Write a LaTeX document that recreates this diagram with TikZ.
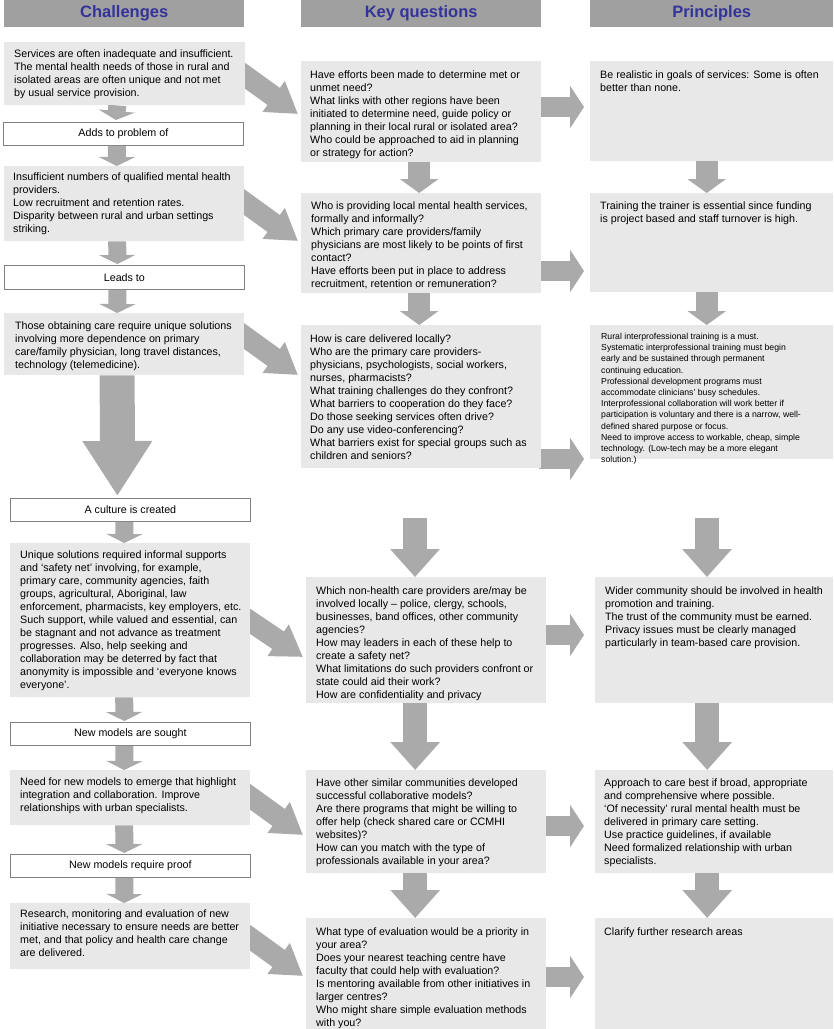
\documentclass[tikz,border=0pt]{standalone}
\usepackage{fontspec}
\setmainfont{Liberation Sans}
\usetikzlibrary{arrows.meta,calc}
\definecolor{hdrgray}{RGB}{160,160,160}
\definecolor{hdrblue}{RGB}{51,51,153}
\definecolor{boxgray}{RGB}{232,232,232}
\definecolor{arrgray}{RGB}{170,170,170}
\definecolor{lblgray}{RGB}{128,128,128}
\newcommand{\gb}[5]{%
  \pgfmathsetmacro{\bw}{#4-#2}\pgfmathsetmacro{\bh}{#5-#3}%
  \node[gbox, minimum width=\bw pt, minimum height=\bh pt] (#1) at (#2,#3) {};}
\newcommand{\lb}[6]{%
  \pgfmathsetmacro{\bw}{#4-#2}\pgfmathsetmacro{\bh}{#5-#3}%
  \node[lbl, minimum width=\bw pt, minimum height=\bh pt] (#1) at (#2,#3) {#6};}
\begin{document}
\begin{tikzpicture}[x=1pt,y=-1pt,
  hdr/.style={fill=hdrgray, text=hdrblue, font=\fontsize{16.5}{18}\selectfont\bfseries, minimum height=27pt, inner sep=0pt, anchor=north west},
  gbox/.style={fill=boxgray, inner sep=0pt, anchor=north west},
  lbl/.style={draw=lblgray, line width=0.8pt, fill=white, inner sep=0pt, anchor=north west, font=\fontsize{10.7}{13}\selectfont},
  txt/.style={inner sep=0pt, anchor=north west, align=left, font=\fontsize{10.7}{13}\selectfont},
  smtxt/.style={inner sep=0pt, anchor=north west, align=left, font=\fontsize{8.7}{11.2}\selectfont},
  varrow/.style={draw=arrgray, line width=18pt, -{Triangle[width=36pt,length=9pt]}},
  karrow/.style={draw=arrgray, line width=22pt, -{Triangle[width=38pt,length=14pt]}},
  garrow/.style={draw=arrgray, line width=24pt, -{Triangle[width=48pt,length=28pt]}},
  bigarrow/.style={draw=arrgray, line width=35pt, -{Triangle[width=66pt,length=55pt]}},
  harrow/.style={draw=arrgray, line width=20pt, -{Triangle[width=42pt,length=14pt]}},
  darrow/.style={draw=arrgray, line width=21pt, -{Triangle[width=36pt,length=30pt]}},
]
\useasboundingbox (0,0) rectangle (834,1029);

% headers
\node[hdr, minimum width=240pt] (h1) at (4,0) {Challenges};
\node[hdr, minimum width=240pt] (h2) at (301,0) {Key questions};
\node[hdr, minimum width=243pt] (h3) at (590,0) {Principles};

% boxes
\gb{c1}{4}{42}{245}{105}
\lb{l1}{3}{122}{243}{145}{Adds to problem of}
\gb{c2}{4}{166}{244}{241}
\lb{l2}{4}{265}{244}{289}{Leads to}
\gb{c3}{4}{313}{244}{375}
\lb{l3}{10}{498}{250}{521}{A culture is created}
\gb{c4}{10}{543}{250}{697}
\lb{l4}{10}{722}{250}{745}{New models are sought}
\gb{c5}{10}{770}{250}{825}
\lb{l5}{10}{854}{250}{877}{New models require proof}
\gb{c6}{10}{903}{250}{969}

\gb{k1}{301}{61}{541}{162}
\gb{k2}{301}{193}{541}{293}
\gb{k3}{301}{325}{541}{468}
\gb{k4}{306}{577}{546}{703}
\gb{k5}{306}{770}{546}{873}
\gb{k6}{306}{918}{546}{1029}

\gb{p1}{590}{61}{833}{161}
\gb{p2}{590}{193}{833}{292}
\gb{p3}{590}{325}{833}{459}
\gb{p4}{595}{577}{833}{703}
\gb{p5}{595}{770}{833}{873}
\gb{p6}{595}{918}{833}{1029}

% free ends of the long arrows
\coordinate (kgap) at (415,518);
\coordinate (pgap) at (707,518);

% arrows
\draw[varrow] ([xshift=-7.5pt]c1.south) -- ([shift={(-7.5,-2)}]l1.north);
\draw[varrow] ([xshift=-6.5pt]l1.south) -- ([xshift=-7.5pt]c2.north);
\draw[varrow] ([xshift=-7pt]c2.south) -- ([shift={(-7,-1)}]l2.north);
\draw[varrow] ([xshift=-7pt]l2.south) -- ([xshift=-7pt]c3.north);
\draw[bigarrow] ([xshift=-7pt]c3.south) -- ([shift={(-13,-2)}]l3.north);
\draw[varrow] ([xshift=-6pt]l3.south) -- ([xshift=-6pt]c4.north);
\draw[varrow] ([xshift=-6pt]c4.south) -- ([shift={(-6,-1)}]l4.north);
\draw[varrow] ([xshift=-6pt]l4.south) -- ([xshift=-6pt]c5.north);
\draw[varrow] ([xshift=-6pt]c5.south) -- ([shift={(-6,-1)}]l5.north);
\draw[varrow] ([xshift=-6pt]l5.south) -- ([xshift=-6pt]c6.north);

\draw[karrow] ([xshift=-2pt]k1.south) -- ([xshift=-2pt]k2.north);
\draw[karrow] ([xshift=-2pt]k2.south) -- ([xshift=-2pt]k3.north);
\draw[garrow] (kgap) -- (kgap |- k4.north);
\draw[garrow] ([xshift=-11pt]k4.south) -- ([xshift=-11pt]k5.north);
\draw[garrow] ([xshift=-11pt]k5.south) -- ([xshift=-11pt]k6.north);

\draw[karrow] ([xshift=-5pt]p1.south) -- ([xshift=-5pt]p2.north);
\draw[karrow] ([xshift=-5pt]p2.south) -- ([xshift=-5pt]p3.north);
\draw[garrow] (pgap) -- (pgap |- p4.north);
\draw[garrow] ([xshift=-7pt]p4.south) -- ([xshift=-7pt]p5.north);
\draw[garrow] ([xshift=-7pt]p5.south) -- ([xshift=-7pt]p6.north);

\draw[harrow] ([shift={(-2,46)}]k1.north east) -- ([shift={(-6,46)}]p1.north west);
\draw[harrow] ([shift={(-2,78)}]k2.north east) -- ([shift={(-6,78)}]p2.north west);
\draw[harrow] ([shift={(-2,134)}]k3.north east) -- ([shift={(-6,134)}]p3.north west);
\draw[harrow] ([shift={(-2,58)}]k4.north east) -- ([shift={(-11,58)}]p4.north west);
\draw[harrow] ([shift={(-2,56)}]k5.north east) -- ([shift={(-11,56)}]p5.north west);
\draw[harrow] ([shift={(-2,59)}]k6.north east) -- ([shift={(-11,59)}]p6.north west);

\draw[darrow] ([shift={(-10,26.8)}]c1.north east) -- ([shift={(-3,53)}]k1.north west);
\draw[darrow] ([shift={(-9,29.8)}]c2.north east) -- ([shift={(-3,48)}]k2.north west);
\draw[darrow] ([shift={(-9,16.8)}]c3.north east) -- ([shift={(-3,50)}]k3.north west);
\draw[darrow] ([shift={(-10,71.8)}]c4.north east) -- ([shift={(-3,80)}]k4.north west);
\draw[darrow] ([shift={(-10,19.8)}]c5.north east) -- ([shift={(-3,65)}]k5.north west);
\draw[darrow] ([shift={(-10,27.8)}]c6.north east) -- ([shift={(-3,58)}]k6.north west);

% boxes again, over the arrow starts
\gb{c1b}{4}{42}{245}{105}
\gb{c2b}{4}{166}{244}{241}
\gb{c3b}{4}{313}{244}{375}
\gb{c4b}{10}{543}{250}{697}
\gb{c5b}{10}{770}{250}{825}
\gb{c6b}{10}{903}{250}{969}
\gb{k1b}{301}{61}{541}{162}
\gb{k2b}{301}{193}{541}{293}
\gb{k3b}{301}{325}{541}{468}
\gb{k4b}{306}{577}{546}{703}
\gb{k5b}{306}{770}{546}{873}
\gb{k6b}{306}{918}{546}{1029}

% texts
\node[txt] (c1t) at (14,50) {Services are often inadequate and insufficient.\\The mental health needs of those in rural and\\isolated areas are often unique and not met\\by usual service provision.};
\node[txt] (c2t) at (13,173) {Insufficient numbers of qualified mental health\\providers.\\Low recruitment and retention rates.\\Disparity between rural and urban settings\\striking.};
\node[txt] (c3t) at (15,322) {Those obtaining care require unique solutions\\involving more dependence on primary\\care/family physician, long travel distances,\\technology (telemedicine).};
\node[txt] (c4t) at (20,551) {Unique solutions required informal supports\\and ‘safety net’ involving, for example,\\primary care, community agencies, faith\\groups, agricultural, Aboriginal, law\\enforcement, pharmacists, key employers, etc.\\Such support, while valued and essential, can\\be stagnant and not advance as treatment\\progresses. Also, help seeking and\\collaboration may be deterred by fact that\\anonymity is impossible and ‘everyone knows\\everyone’.};
\node[txt] (c5t) at (20,778) {Need for new models to emerge that highlight\\integration and collaboration. Improve\\relationships with urban specialists.};
\node[txt] (c6t) at (20,910) {Research, monitoring and evaluation of new\\initiative necessary to ensure needs are better\\met, and that policy and health care change\\are delivered.};

\node[txt] (k1t) at (310,71) {Have efforts been made to determine met or\\unmet need?\\What links with other regions have been\\initiated to determine need, guide policy or\\planning in their local rural or isolated area?\\Who could be approached to aid in planning\\or strategy for action?};
\node[txt] (k2t) at (311,202) {Who is providing local mental health services,\\formally and informally?\\Which primary care providers/family\\physicians are most likely to be points of first\\contact?\\Have efforts been put in place to address\\recruitment, retention or remuneration?};
\node[txt] (k3t) at (310,335) {How is care delivered locally?\\Who are the primary care providers-\\physicians, psychologists, social workers,\\nurses, pharmacists?\\What training challenges do they confront?\\What barriers to cooperation do they face?\\Do those seeking services often drive?\\Do any use video-conferencing?\\What barriers exist for special groups such as\\children and seniors?};
\node[txt] (k4t) at (316,587) {Which non-health care providers are/may be\\involved locally – police, clergy, schools,\\businesses, band offices, other community\\agencies?\\How may leaders in each of these help to\\create a safety net?\\What limitations do such providers confront or\\state could aid their work?\\How are confidentiality and privacy};
\node[txt] (k5t) at (316,779) {Have other similar communities developed\\successful collaborative models?\\Are there programs that might be willing to\\offer help (check shared care or CCMHI\\websites)?\\How can you match with the type of\\professionals available in your area?};
\node[txt] (k6t) at (316,928) {What type of evaluation would be a priority in\\your area?\\Does your nearest teaching centre have\\faculty that could help with evaluation?\\Is mentoring available from other initiatives in\\larger centres?\\Who might share simple evaluation methods\\with you?};

\node[txt] (p1t) at (600,71) {Be realistic in goals of services: Some is often\\better than none.};
\node[txt] (p2t) at (600,202) {Training the trainer is essential since funding\\is project based and staff turnover is high.};
\node[smtxt] (p3t) at (601,333) {Rural interprofessional training is a must.\\Systematic interprofessional training must begin\\early and be sustained through permanent\\continuing education.\\Professional development programs must\\accommodate clinicians’ busy schedules.\\Interprofessional collaboration will work better if\\participation is voluntary and there is a narrow, well-\\defined shared purpose or focus.\\Need to improve access to workable, cheap, simple\\technology. (Low-tech may be a more elegant\\solution.)};
\node[txt] (p4t) at (605,587) {Wider community should be involved in health\\promotion and training.\\The trust of the community must be earned.\\Privacy issues must be clearly managed\\particularly in team-based care provision.};
\node[txt] (p5t) at (604,779) {Approach to care best if broad, appropriate\\and comprehensive where possible.\\‘Of necessity’ rural mental health must be\\delivered in primary care setting.\\Use practice guidelines, if available\\Need formalized relationship with urban\\specialists.};
\node[txt] (p6t) at (604,928) {Clarify further research areas};
\end{tikzpicture}
\end{document}
